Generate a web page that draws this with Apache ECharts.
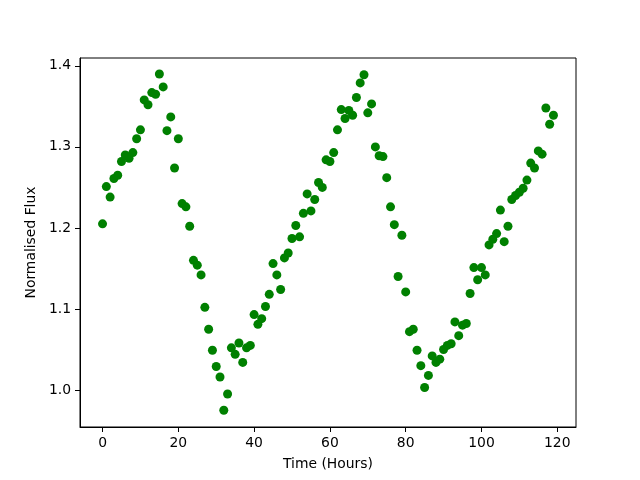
<!DOCTYPE html>
<html>
<head>
<meta charset="utf-8">
<script src="https://cdn.jsdelivr.net/npm/echarts@6/dist/echarts.min.js"></script>
<style>
  html, body { margin: 0; padding: 0; background: #fff; }
  #chart { width: 640px; height: 480px; }
</style>
</head>
<body>
<div id="chart"></div>
<script>
  // hourly readings
  let hours = [];
  for (let i = 0; i < 120; i++) hours.push(i);
  let flux = [
    1.205, 1.251, 1.238, 1.261, 1.265, 1.282, 1.290, 1.286, 1.293, 1.310,
    1.321, 1.358, 1.352, 1.367, 1.365, 1.390, 1.374, 1.320, 1.337, 1.274,
    1.310, 1.230, 1.226, 1.202, 1.160, 1.154, 1.142, 1.102, 1.075, 1.049,
    1.029, 1.016, 0.975, 0.995, 1.052, 1.044, 1.058, 1.034, 1.052, 1.055,
    1.093, 1.081, 1.088, 1.103, 1.118, 1.156, 1.142, 1.124, 1.163, 1.169,
    1.187, 1.203, 1.189, 1.218, 1.242, 1.221, 1.235, 1.256, 1.250, 1.284,
    1.282, 1.293, 1.321, 1.346, 1.335, 1.345, 1.339, 1.361, 1.379, 1.389,
    1.342, 1.353, 1.300, 1.289, 1.288, 1.262, 1.226, 1.204, 1.140, 1.191,
    1.121, 1.072, 1.075, 1.049, 1.030, 1.003, 1.018, 1.042, 1.034, 1.038,
    1.050, 1.055, 1.057, 1.084, 1.067, 1.080, 1.082, 1.119, 1.151, 1.136,
    1.151, 1.142, 1.179, 1.186, 1.193, 1.222, 1.183, 1.202, 1.235, 1.240,
    1.244, 1.249, 1.259, 1.280, 1.274, 1.295, 1.291, 1.348, 1.328, 1.339
  ];
  let xTicks = [0, 20, 40, 60, 80, 100, 120];
  let yTicks = [1.0, 1.1, 1.2, 1.3, 1.4];

  let points = hours.map((h, i) => [h, flux[i]]);
  let font = 'DejaVu Sans';

  let chart = echarts.init(document.getElementById('chart'));
  chart.setOption({
    animation: false,
    grid: {
      left: 80,
      right: 64,
      top: 58,
      bottom: 53,
      show: true,
      borderColor: '#000',
      borderWidth: 1,
      backgroundColor: '#fff'
    },
    xAxis: {
      type: 'value',
      min: -5.95,
      max: 124.95,
      name: 'Time (Hours)',
      nameLocation: 'middle',
      nameGap: 30,
      nameTextStyle: { color: '#000', fontSize: 13.9, fontFamily: font },
      splitLine: { show: false },
      axisLine: { show: true, onZero: false, lineStyle: { color: '#000', width: 1 } },
      axisTick: { show: true, length: 5, lineStyle: { color: '#000' }, customValues: xTicks },
      axisLabel: {
        color: '#000', fontSize: 13.9, fontFamily: font, margin: 9,
        customValues: xTicks
      }
    },
    yAxis: {
      type: 'value',
      min: 0.9543,
      max: 1.4097,
      name: 'Normalised Flux',
      nameLocation: 'middle',
      nameGap: 34,
      nameTextStyle: { color: '#000', fontSize: 13.9, fontFamily: font },
      splitLine: { show: false },
      axisLine: { show: true, onZero: false, lineStyle: { color: '#000', width: 1 } },
      axisTick: { show: true, length: 5, lineStyle: { color: '#000' }, customValues: yTicks },
      axisLabel: {
        color: '#000', fontSize: 13.9, fontFamily: font, margin: 9,
        customValues: yTicks,
        formatter: v => v.toFixed(1)
      }
    },
    series: [{
      type: 'scatter',
      data: points,
      symbol: 'circle',
      symbolSize: 9,
      itemStyle: { color: '#008000', opacity: 1 },
      silent: true
    }]
  });
</script>
</body>
</html>
